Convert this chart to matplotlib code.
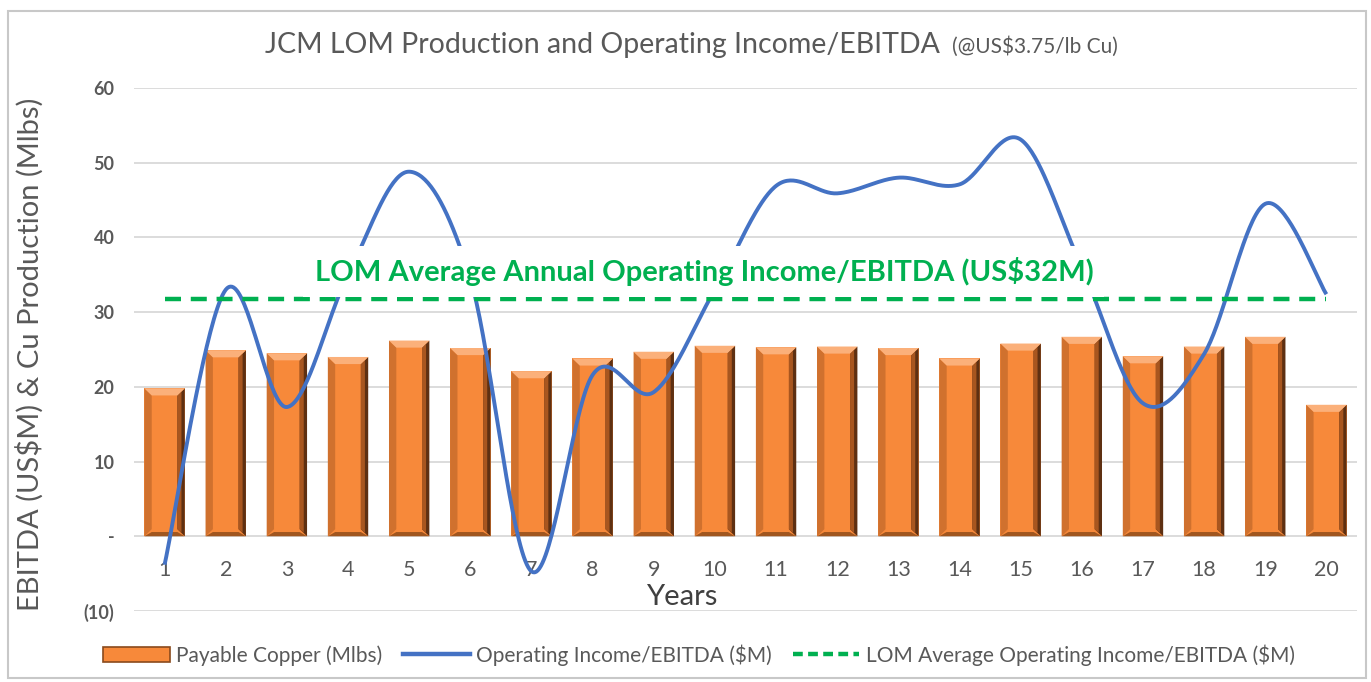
import numpy as np
from matplotlib import pyplot as plt
from matplotlib.patches import Polygon, Rectangle, Patch
from matplotlib.lines import Line2D

plt.rcParams['font.family'] = ['Lato', 'DejaVu Sans']

years = list(range(1, 21))
copper = [19.8, 24.9, 24.5, 24.0, 26.2, 25.2, 22.1, 23.8, 24.7, 25.5,
          25.3, 25.4, 25.2, 23.8, 25.8, 26.7, 24.1, 25.4, 26.7, 17.6]
ebitda = [-3.8, 33.0, 17.3, 35.0, 48.8, 34.5, -4.7, 21.6, 19.3, 33.0,
          46.9, 45.9, 48.0, 47.1, 53.1, 36.0, 17.8, 24.4, 44.5, 32.4]
lom_avg = 31.7
yticks = [-10, 0, 10, 20, 30, 40, 50, 60]
ytick_labels = ['(10)', '-', '10', '20', '30', '40', '50', '60']

GREY = '#595959'
ORANGE = '#F7893A'
BLUE = '#4472C4'
GREEN = '#00B050'


def smooth(x, y, n=40):
    # excel-style bezier smoothing through the points
    x = np.asarray(x, float)
    y = np.asarray(y, float)
    px = np.concatenate([[x[0]], x, [x[-1]]])
    py = np.concatenate([[y[0]], y, [y[-1]]])
    t = np.linspace(0, 1, n)[:, None]
    xs, ys = [], []
    for i in range(1, len(px) - 2):
        p0 = np.array([px[i], py[i]])
        p3 = np.array([px[i + 1], py[i + 1]])
        c1 = p0 + (np.array([px[i + 1], py[i + 1]]) - np.array([px[i - 1], py[i - 1]])) / 6
        c2 = p3 - (np.array([px[i + 2], py[i + 2]]) - np.array([px[i], py[i]])) / 6
        b = (1 - t) ** 3 * p0 + 3 * (1 - t) ** 2 * t * c1 + 3 * (1 - t) * t ** 2 * c2 + t ** 3 * p3
        xs.append(b[:, 0])
        ys.append(b[:, 1])
    return np.concatenate(xs), np.concatenate(ys)


fig = plt.figure(figsize=(13.71, 6.82), dpi=100)
fig.patches.append(Rectangle((8 / 1371, 4 / 682), 1358 / 1371, 667 / 682, transform=fig.transFigure,
                             fc='white', ec='#C8C8C8', lw=1.5, zorder=-10))
ax = fig.add_axes([134 / 1371, 1 - 611 / 682, 1223 / 1371, 523 / 682])
ax.set_facecolor('none')

ax.spines['bottom'].set_position(('data', 0))
for s in ax.spines.values():
    s.set_visible(False)
ax.set_xlim(0.5, 20.5)
ax.set_ylim(-10, 60)
ax.set_yticks(yticks)
ax.set_yticklabels(ytick_labels, fontweight='bold', color=GREY, fontsize=13)
ax.set_xticks(years)
ax.set_xticklabels([str(y) for y in years], color=GREY, fontsize=15.5)
ax.tick_params(axis='both', length=0)
ax.tick_params(axis='y', pad=14)
ax.tick_params(axis='x', pad=17)
ax.grid(axis='y', color='#D9D9D9', lw=1.3, zorder=0)
ax.set_axisbelow(True)

# bars with bevel look
w = 0.66
bx, by = 0.12, 0.95
ax.bar(years, copper, width=w, color=ORANGE, zorder=2)
for c, h in zip(years, copper):
    l, r = c - w / 2, c + w / 2
    ax.add_patch(Polygon([(l, 0), (l, h), (l + bx, h - by), (l + bx, by)], closed=True,
                         fc='#D0712E', ec='none', zorder=3))
    ax.add_patch(Polygon([(r, 0), (r, h), (r - bx, h - by), (r - bx, by)], closed=True,
                         fc='#5E3012', ec='none', zorder=3))
    ax.add_patch(Polygon([(r - bx * 0.45, by * 0.5), (r - bx * 0.45, h - by * 0.5), (r - bx, h - by), (r - bx, by)],
                         closed=True, fc='#A8561F', ec='none', zorder=3))
    ax.add_patch(Polygon([(l, h), (r, h), (r - bx, h - by), (l + bx, h - by)], closed=True,
                         fc='#FBB07A', ec='none', zorder=3))
    ax.add_patch(Polygon([(l, 0), (r, 0), (r - bx, by * 0.6), (l + bx, by * 0.6)], closed=True,
                         fc='#A0561F', ec='none', zorder=3))

sx, sy = smooth(years, ebitda)
ax.plot(sx, sy, color=BLUE, lw=2.8, zorder=4, solid_capstyle='butt')
ax.plot([years[0], years[-1]], [lom_avg, lom_avg], color=GREEN, lw=3.2,
        dashes=(3.6, 2.2), zorder=5)

ax.text(9.82, 35.4, 'LOM Average Annual Operating Income/EBITDA (US$32M)', color=GREEN,
        fontsize=21, fontweight='bold', ha='center', va='center', zorder=6,
        bbox=dict(fc='white', ec='none', pad=8))

fig.text(940 / 1371, 1 - 45 / 682, 'JCM LOM Production and Operating Income/EBITDA', color=GREY,
         fontsize=20.5, ha='right', va='center')
fig.text(952 / 1371, 1 - 47 / 682, '(@US$3.75/lb Cu)', color=GREY, fontsize=15, ha='left', va='center')
fig.text(682 / 1371, 1 - 597 / 682, 'Years', color='#404040', fontsize=21, ha='center', va='center')
fig.text(30 / 1371, 1 - 354 / 682, 'EBITDA (US$M) & Cu Production (Mlbs)', color=GREY, fontsize=21,
         rotation=90, ha='center', va='center')

handles = [Patch(fc=ORANGE, ec='#8A4A1C', lw=1.2),
           Line2D([], [], color=BLUE, lw=3.2),
           Line2D([], [], color=GREEN, lw=3.2, dashes=(2.2, 1.2))]
labels = ['Payable Copper (Mlbs)', 'Operating Income/EBITDA ($M)', 'LOM Average Operating Income/EBITDA ($M)']
fig.legend(handles, labels, loc='center', bbox_to_anchor=(699 / 1371, 1 - 655 / 682), ncol=3, frameon=False,
           fontsize=15, labelcolor=GREY, handlelength=3.2, handletextpad=0.3, columnspacing=1.0)

fig.savefig('out.png', dpi=100)
